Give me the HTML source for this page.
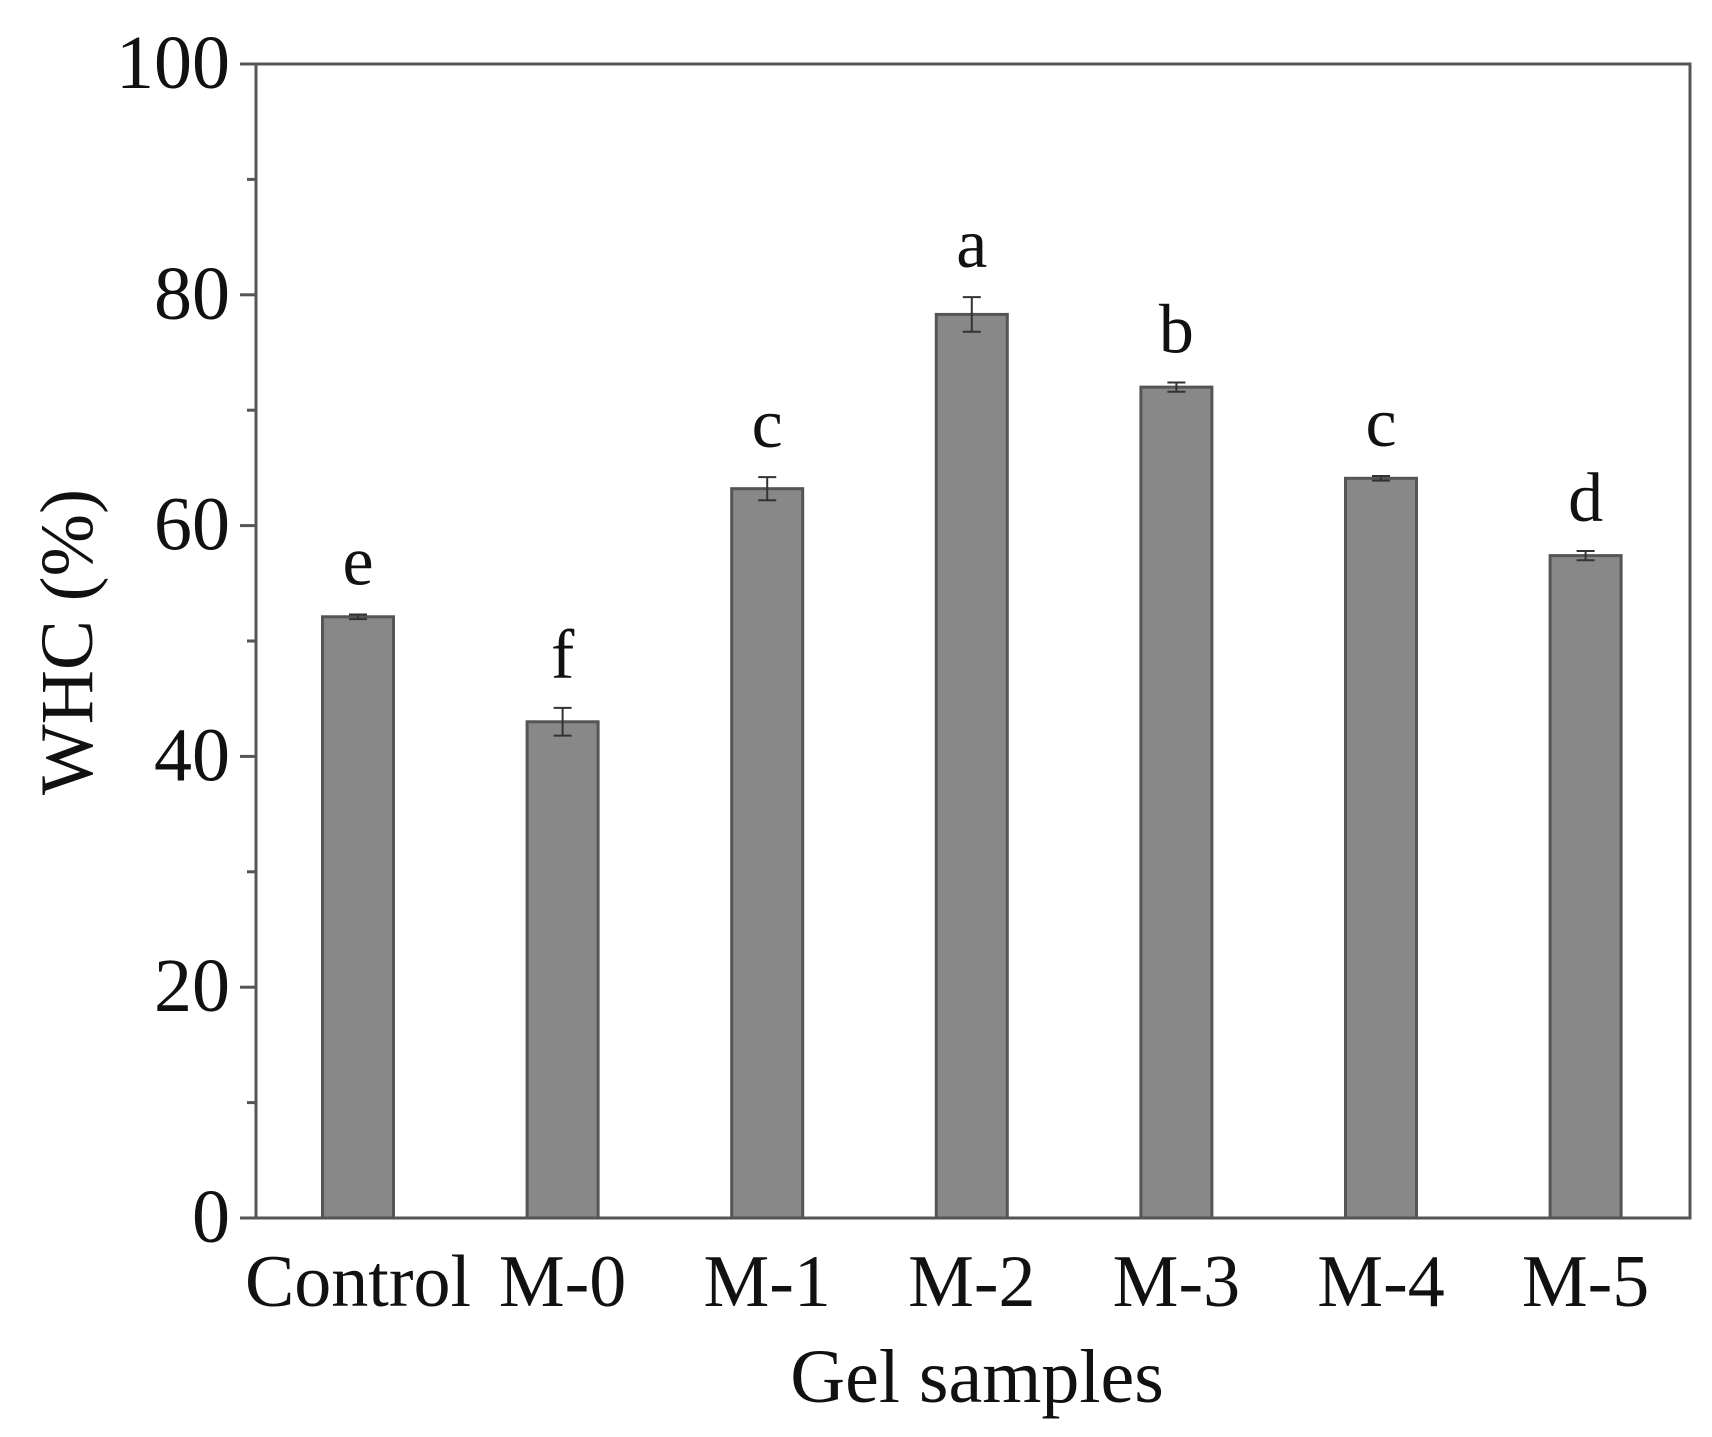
<!DOCTYPE html>
<html><head><meta charset="utf-8"><style>
body{margin:0;background:#fff}
svg{display:block}
text{font-family:"Liberation Serif",serif;fill:#111}
</style></head><body>
<svg id="chart" width="1712" height="1437" viewBox="0 0 1712 1437"></svg>
<script>
const categories=["Control","M-0","M-1","M-2","M-3","M-4","M-5"];
const values=[52.1,43.0,63.2,78.3,72.0,64.1,57.4];
const errors=[0.2,1.2,1.0,1.5,0.4,0.2,0.4];
const letters=["e","f","c","a","b","c","d"];
const yTicks=[0,20,40,60,80,100];
const yMinor=[10,30,50,70,90];
const NS="http://www.w3.org/2000/svg";
const svg=document.getElementById('chart');
const L=256,R=1690,T=64,B=1218;
const x0=358,step=204.6,bw=71;
const y=v=>B-(v/100)*(B-T);
const xc=i=>x0+i*step;
function mk(tag,attrs,parent){const e=document.createElementNS(NS,tag);for(const k in attrs)e.setAttribute(k,attrs[k]);(parent||svg).appendChild(e);return e;}
categories.forEach((c,i)=>{
  const b=mk('rect',{x:xc(i)-bw/2,y:y(values[i]),width:bw,height:B-y(values[i]),fill:'#888',stroke:'#555','stroke-width':3});
  
  
  const g=mk('g',{stroke:'#333','stroke-width':2});
  
  
  const t=y(values[i]+errors[i]),bo=y(values[i]-errors[i]);
  mk('line',{x1:xc(i),x2:xc(i),y1:t,y2:bo},g);
  mk('line',{x1:xc(i)-9,x2:xc(i)+9,y1:t,y2:t},g);
  mk('line',{x1:xc(i)-9,x2:xc(i)+9,y1:bo,y2:bo},g);
  const lt=mk('text',{x:xc(i),y:t-30,'text-anchor':'middle','font-size':70});
  lt.textContent=letters[i];
  
  
  const xl=mk('text',{x:xc(i),y:1306,'text-anchor':'middle','font-size':74});
  xl.textContent=c;
  
  
});
const frame=mk('rect',{x:L,y:T,width:R-L,height:B-T,fill:'none',stroke:'#555','stroke-width':3});


yTicks.forEach(v=>{
  mk('line',{x1:L-16,x2:L,y1:y(v),y2:y(v),stroke:'#555','stroke-width':3});
  const t=mk('text',{x:230,y:y(v)+24,'text-anchor':'end','font-size':76});
  t.textContent=v;
  
  
});
yMinor.forEach(v=>{mk('line',{x1:L-9,x2:L,y1:y(v),y2:y(v),stroke:'#555','stroke-width':3});});
const xt=mk('text',{x:977,y:1402,'text-anchor':'middle','font-size':76});
xt.textContent='Gel samples';


const yt=mk('text',{x:0,y:0,'text-anchor':'middle','font-size':75,transform:'translate(92,642) rotate(-90)'});
yt.textContent='WHC (%)';


</script>
</body></html>
